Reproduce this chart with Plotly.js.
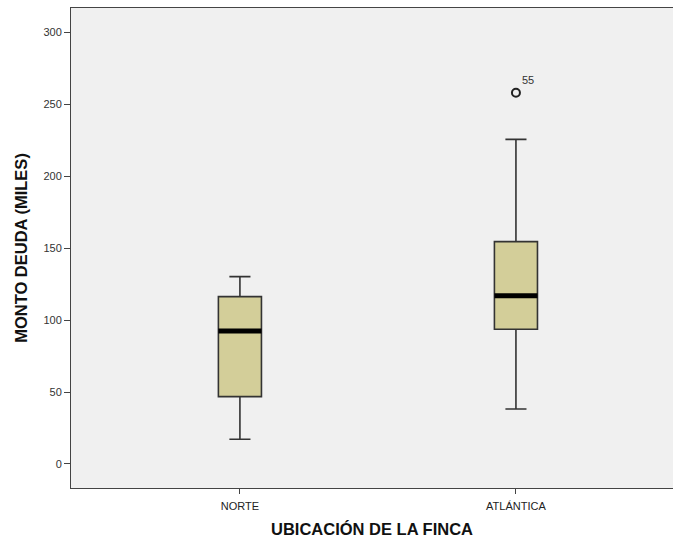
<!DOCTYPE html>
<html>
<head>
<meta charset="utf-8">
<script src="https://cdn.plot.ly/plotly-3.0.1.min.js"></script>
<style>html,body{margin:0;padding:0;background:#fff;}</style>
</head>
<body>
<div id="chart" style="width:673px;height:542px;"></div>
<script>
const categories = ['NORTE', 'ATLÁNTICA'];
const lowerWhisker = [17.2, 38.2];
const q1 = [46.8, 93.6];
const median = [92.4, 117.0];
const q3 = [116.3, 154.5];
const upperWhisker = [130.2, 225.6];
const outlierCategory = ['ATLÁNTICA'];
const outlierValue = [258.0];
const outlierLabel = ['55'];
const yTicks = [0, 50, 100, 150, 200, 250, 300];

const boxWidth = 0.156;
const font = 'Liberation Sans, Arial, sans-serif';

const traces = [
  {
    type: 'box',
    x: categories,
    q1: q1, median: median, q3: q3,
    lowerfence: lowerWhisker, upperfence: upperWhisker,
    width: boxWidth,
    whiskerwidth: 0.49,
    fillcolor: 'rgb(211,206,153)',
    line: {color: '#333333', width: 1.6},
    boxpoints: false,
    hoverinfo: 'skip',
    showlegend: false
  },
  {
    type: 'scatter',
    mode: 'markers+text',
    x: outlierCategory,
    y: outlierValue,
    text: outlierLabel,
    textposition: 'top right',
    textfont: {family: font, size: 11, color: '#333333'},
    marker: {symbol: 'circle-open', size: 8, color: '#222222', line: {width: 2, color: '#222222'}},
    cliponaxis: false,
    showlegend: false
  }
];

const shapes = median.map((m, i) => ({
  type: 'line', xref: 'x', yref: 'y',
  x0: i - boxWidth / 2, x1: i + boxWidth / 2,
  y0: m, y1: m,
  line: {color: '#000000', width: 5}
}));

const layout = {
  width: 673, height: 542,
  margin: {l: 71, r: 0, t: 8, b: 54},
  paper_bgcolor: '#ffffff',
  plot_bgcolor: '#f0f0f0',
  font: {family: font, color: '#333333'},
  shapes: shapes,
  xaxis: {
    type: 'category',
    categoryarray: categories, categoryorder: 'array',
    range: [-0.612, 1.569],
    showgrid: false, zeroline: false,
    showline: true, linecolor: '#444444', linewidth: 1, mirror: true,
    ticks: 'outside', ticklen: 5, tickcolor: '#444444',
    ticklabelstandoff: 3,
    tickfont: {family: font, size: 11, color: '#222222'},
    title: {text: 'UBICACIÓN DE LA FINCA', font: {family: font, size: 16.5, color: '#111111', weight: 'bold'}, standoff: 12}
  },
  yaxis: {
    range: [-16.7, 316.9],
    tickvals: yTicks,
    showgrid: false, zeroline: false,
    showline: true, linecolor: '#444444', linewidth: 1, mirror: true,
    ticks: 'outside', ticklen: 6, tickcolor: '#444444',
    tickfont: {family: font, size: 11, color: '#333333'},
    title: {text: 'MONTO DEUDA (MILES)', font: {family: font, size: 16.5, color: '#111111', weight: 'bold'}, standoff: 11}
  }
};

Plotly.newPlot('chart', traces, layout, {displayModeBar: false, staticPlot: true});
</script>
</body>
</html>
